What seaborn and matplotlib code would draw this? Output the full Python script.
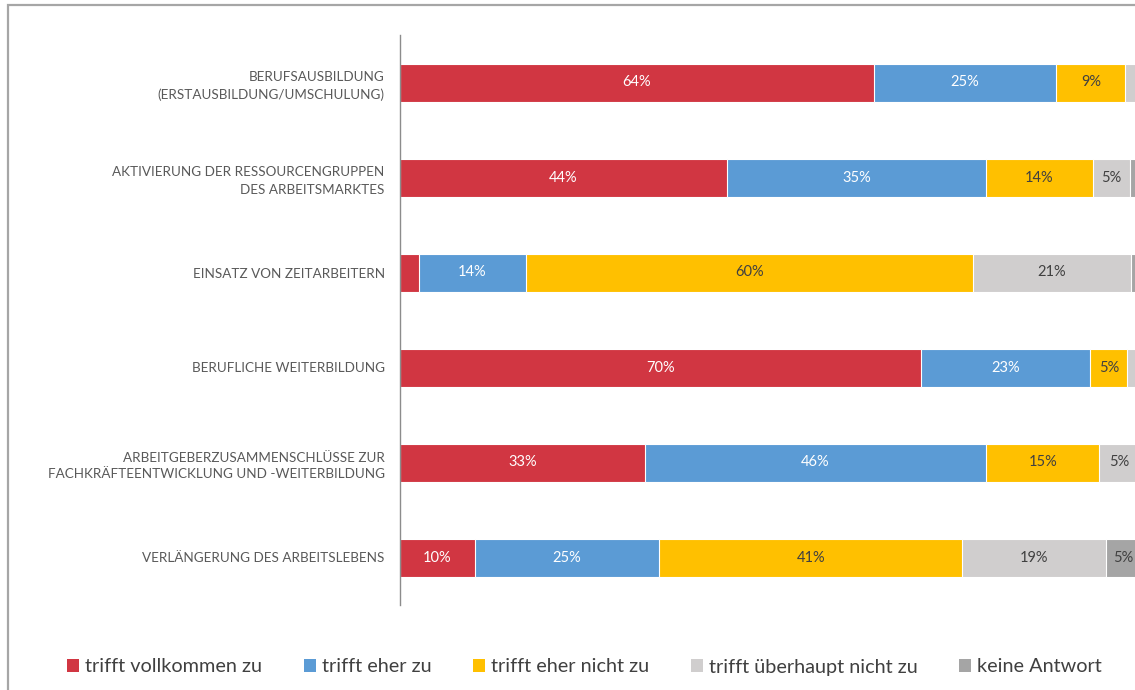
import matplotlib
matplotlib.use("Agg")
import matplotlib.pyplot as plt
from matplotlib.patches import Rectangle, Patch
import seaborn as sns
import pandas as pd
import numpy as np

categories = [
    "BERUFSAUSBILDUNG\n(ERSTAUSBILDUNG/UMSCHULUNG)",
    "AKTIVIERUNG DER RESSOURCENGRUPPEN\nDES ARBEITSMARKTES",
    "EINSATZ VON ZEITARBEITERN",
    "BERUFLICHE WEITERBILDUNG",
    "ARBEITGEBERZUSAMMENSCHLÜSSE ZUR\nFACHKRÄFTEENTWICKLUNG UND -WEITERBILDUNG",
    "VERLÄNGERUNG DES ARBEITSLEBENS",
]
series_names = [
    "trifft vollkommen zu",
    "trifft eher zu",
    "trifft eher nicht zu",
    "trifft überhaupt nicht zu",
    "keine Antwort",
]
vollkommen = [64.0, 44.2, 2.6, 70.4, 33.1, 10.1]
eher = [24.7, 35.0, 14.4, 22.9, 46.1, 24.9]
eher_nicht = [9.3, 14.4, 60.4, 5.0, 15.3, 41.0]
ueberhaupt_nicht = [2.0, 5.1, 21.4, 1.5, 5.4, 19.4]
keine_antwort = [0.0, 1.3, 1.2, 0.0, 0.0, 4.6]

series_values = [vollkommen, eher, eher_nicht, ueberhaupt_nicht, keine_antwort]
colors = ["#D13642", "#5B9BD5", "#FFC000", "#D0CECE", "#A5A5A5"]
label_colors = ["white", "white", "#404040", "#404040", "#404040"]

sns.set_theme(style="white")
plt.rcParams["font.family"] = ["Lato", "DejaVu Sans"]

W, H = 1135, 690
fig = plt.figure(figsize=(W / 100, H / 100), dpi=100)

# chart border (cropped screenshot look)
fig.add_artist(Rectangle((8 / W, -0.05), 1.1, (H - 5) / H + 0.05,
                         transform=fig.transFigure, fill=False,
                         edgecolor="#A6A6A6", linewidth=1.6))

ax = fig.add_axes([400 / W, (H - 605) / H, 740 / W, 570 / H])

df = pd.DataFrame({"cat": categories})
cum = np.zeros(len(categories))
cums = []
for vals in series_values:
    cum = cum + np.array(vals)
    cums.append(cum.copy())

for i in reversed(range(len(series_values))):
    d = df.copy()
    d["val"] = cums[i]
    sns.barplot(data=d, y="cat", x="val", orient="h", color=colors[i],
                width=0.4, edgecolor="white", linewidth=0.8,
                saturation=1, ax=ax)

# labels
for i, vals in enumerate(series_values):
    left = cums[i] - np.array(vals)
    for j, v in enumerate(vals):
        if v >= 4:
            ax.text(left[j] + v / 2, j, f"{round(v)}%", ha="center",
                    va="center", color=label_colors[i], fontsize=10.5)

ax.set_xlim(0, 100)
ax.set_ylim(5.5, -0.5)
ax.set_xlabel("")
ax.set_ylabel("")
ax.set_xticks([])
for s in ["top", "right", "bottom"]:
    ax.spines[s].set_visible(False)
ax.spines["left"].set_color("#8C8C8C")
ax.spines["left"].set_linewidth(1.0)
ax.tick_params(axis="y", length=0, pad=11, labelsize=9.7, labelcolor="#595959")
for t in ax.get_yticklabels():
    t.set_linespacing(1.5)
    t.set_horizontalalignment("right")
    t.set_multialignment("right")

handles = [Patch(facecolor=c, edgecolor="none") for c in colors]
fig.legend(handles, series_names, loc="center", ncol=5,
           bbox_to_anchor=(0.515, (H - 667) / H), frameon=False,
           fontsize=14.3, labelcolor="#404040", handlelength=0.6,
           handleheight=0.6, handletextpad=0.3, columnspacing=2.1)

fig.savefig("out.png", dpi=100, facecolor="white")
